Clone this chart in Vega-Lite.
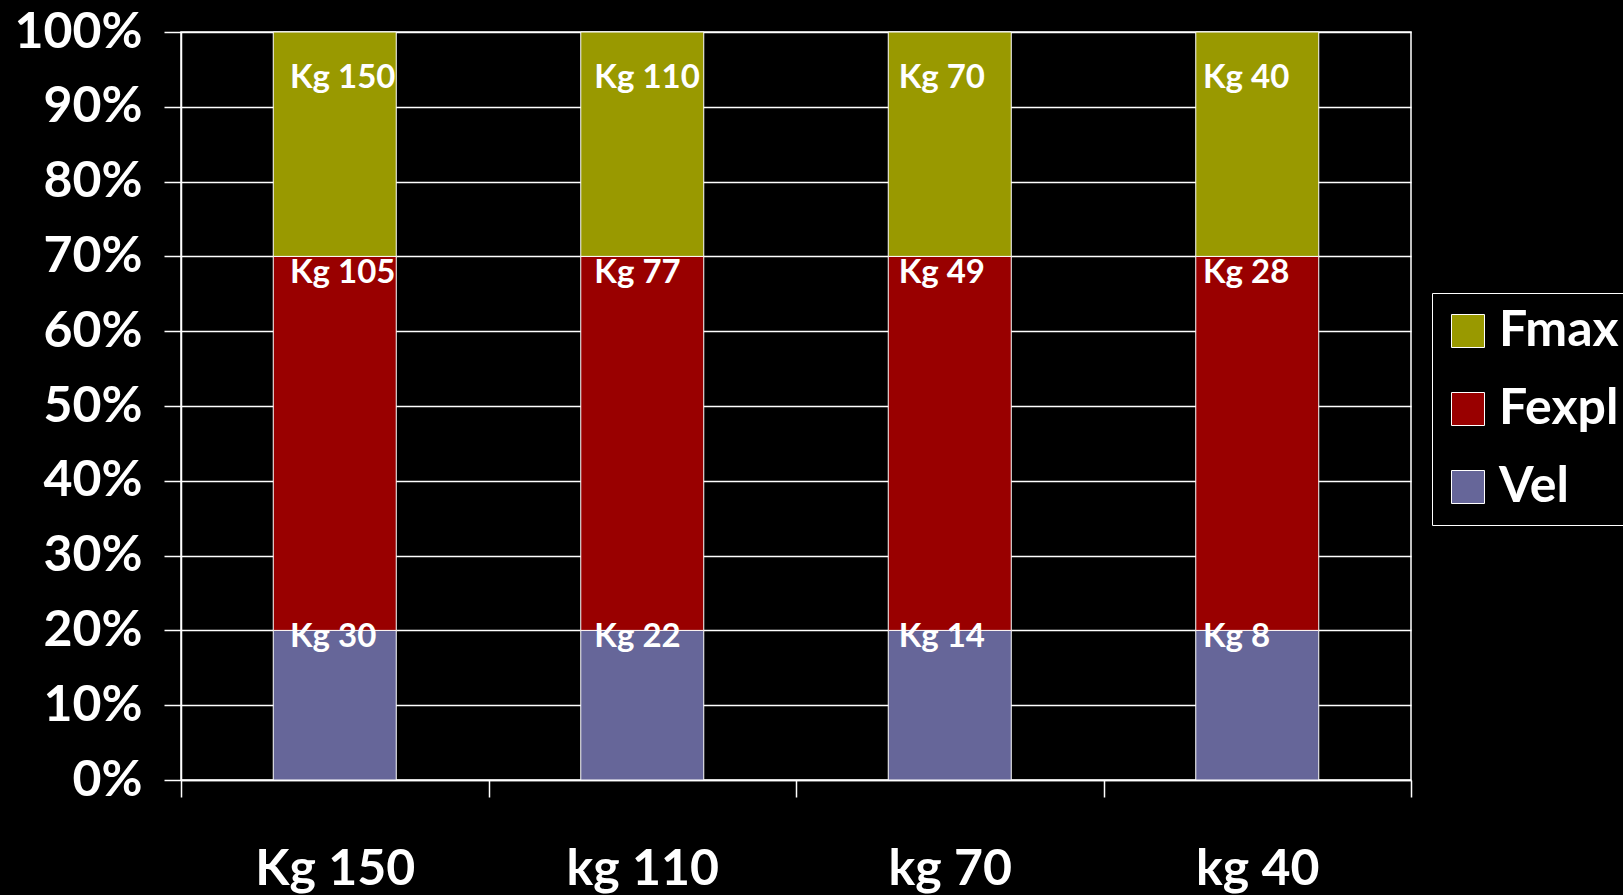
{
  "$schema": "https://vega.github.io/schema/vega-lite/v6.json",
  "width": 1230,
  "height": 748,
  "autosize": {"type": "none"},
  "padding": {"left": 181, "top": 32, "right": 212, "bottom": 115},
  "background": "black",
  "config": {"view": {"stroke": "white", "strokeWidth": 1.5}, "font": "Lato"},
  "data": {
    "values": [
      {"cat": "Kg 150", "series": "Vel", "kg": 30, "label": "Kg 30"},
      {"cat": "Kg 150", "series": "Fexpl", "kg": 75, "label": "Kg 105"},
      {"cat": "Kg 150", "series": "Fmax", "kg": 45, "label": "Kg 150"},
      {"cat": "kg 110", "series": "Vel", "kg": 22, "label": "Kg 22"},
      {"cat": "kg 110", "series": "Fexpl", "kg": 55, "label": "Kg 77"},
      {"cat": "kg 110", "series": "Fmax", "kg": 33, "label": "Kg 110"},
      {"cat": "kg 70", "series": "Vel", "kg": 14, "label": "Kg 14"},
      {"cat": "kg 70", "series": "Fexpl", "kg": 35, "label": "Kg 49"},
      {"cat": "kg 70", "series": "Fmax", "kg": 21, "label": "Kg 70"},
      {"cat": "kg 40", "series": "Vel", "kg": 8, "label": "Kg 8"},
      {"cat": "kg 40", "series": "Fexpl", "kg": 20, "label": "Kg 28"},
      {"cat": "kg 40", "series": "Fmax", "kg": 12, "label": "Kg 40"}
    ]
  },
  "transform": [{"calculate": "indexof(['Vel','Fexpl','Fmax'], datum.series)", "as": "ord"}],
  "encoding": {
    "y": {
      "field": "kg", "type": "quantitative", "stack": "normalize",
      "scale": {"domain": [0, 1]},
      "axis": {
        "title": null, "values": [0, 0.1, 0.2, 0.3, 0.4, 0.5, 0.6, 0.7, 0.8, 0.9, 1],
        "format": ".0%", "grid": true, "gridColor": "white", "gridWidth": 1.5, "gridOpacity": 1,
        "tickSize": 17, "tickColor": "white", "tickWidth": 1.5,
        "domainColor": "white", "domainWidth": 1.5,
        "labelColor": "white", "labelFontSize": 50, "labelFontWeight": "bold", "labelFont": "Lato",
        "labelPadding": 22, "labelBaseline": "middle"
      }
    },
    "order": {"field": "ord", "type": "quantitative"}
  },
  "layer": [
    {
      "mark": {"type": "bar", "stroke": "white", "strokeWidth": 1, "width": {"band": 0.4}},
      "encoding": {
        "x": {
          "field": "cat", "type": "nominal", "sort": null,
          "scale": {"paddingInner": 0, "paddingOuter": 0},
          "axis": {
            "title": null, "labelAngle": 0, "tickBand": "extent", "tickSize": 17,
            "tickColor": "white", "tickWidth": 1.5, "domainColor": "white", "domainWidth": 1.5,
            "labelColor": "white", "labelFontSize": 50, "labelFont": "Lato", "labelFontWeight": "bold",
            "labelBaseline": "middle", "labelPadding": 72, "grid": false
          }
        },
        "color": {
          "field": "series", "type": "nominal",
          "scale": {"domain": ["Fmax", "Fexpl", "Vel"], "range": ["#999900", "#990000", "#666699"]},
          "legend": {
            "title": null, "orient": "none", "legendX": 1251, "legendY": 261,
            "strokeColor": "white", "fillColor": "black", "padding": 13,
            "symbolType": "square", "symbolSize": 1089, "symbolStrokeColor": "white",
            "symbolStrokeWidth": 1, "symbolOpacity": 1, "symbolOffset": -2,
            "labelColor": "white", "labelFontSize": 50, "labelFontWeight": "bold", "labelFont": "Lato",
            "labelOffset": 6, "rowPadding": 28, "labelLimit": 0
          }
        }
      }
    },
    {
      "mark": {"type": "text", "align": "left", "baseline": "middle", "dy": 46, "fontSize": 33, "fontWeight": "bold", "color": "white", "font": "Lato"},
      "encoding": {
        "x": {"field": "cat", "type": "nominal", "sort": null, "scale": {"type": "point", "range": [109, 1022], "padding": 0}, "axis": null},
        "detail": {"field": "series"},
        "text": {"field": "label"},
        "opacity": {"condition": {"test": "datum.series === 'Fmax'", "value": 1}, "value": 0}
      }
    },
    {
      "mark": {"type": "text", "align": "left", "baseline": "middle", "dy": 17, "fontSize": 33, "fontWeight": "bold", "color": "white", "font": "Lato"},
      "encoding": {
        "x": {"field": "cat", "type": "nominal", "sort": null, "scale": {"type": "point", "range": [109, 1022], "padding": 0}, "axis": null},
        "detail": {"field": "series"},
        "text": {"field": "label"},
        "opacity": {"condition": {"test": "datum.series === 'Fexpl'", "value": 1}, "value": 0}
      }
    },
    {
      "mark": {"type": "text", "align": "left", "baseline": "middle", "dy": 7, "fontSize": 33, "fontWeight": "bold", "color": "white", "font": "Lato"},
      "encoding": {
        "x": {"field": "cat", "type": "nominal", "sort": null, "scale": {"type": "point", "range": [109, 1022], "padding": 0}, "axis": null},
        "detail": {"field": "series"},
        "text": {"field": "label"},
        "opacity": {"condition": {"test": "datum.series === 'Vel'", "value": 1}, "value": 0}
      }
    }
  ],
  "resolve": {"scale": {"x": "independent"}}
}
